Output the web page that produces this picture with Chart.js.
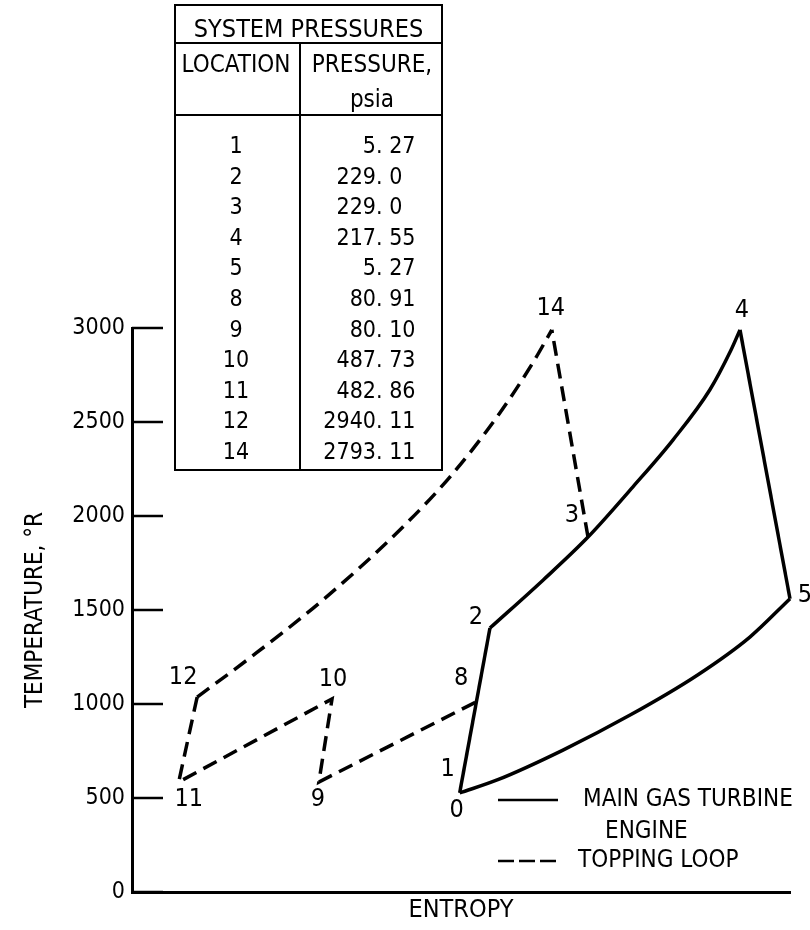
<!DOCTYPE html>
<html>
<head>
<meta charset="utf-8">
<script src="https://cdn.jsdelivr.net/npm/chart.js@4.4.1/dist/chart.umd.min.js"></script>
<style>
  html, body { margin: 0; padding: 0; background: #fff; }
</style>
</head>
<body>
<canvas id="myChart" width="810" height="930"></canvas>
<script>
"use strict";

const FONT = "'Liberation Sans Narrow', 'DejaVu Sans Condensed', 'Arial Narrow', sans-serif";

// temperature axis, deg R
const tempTicks = [0, 500, 1000, 1500, 2000, 2500, 3000];

// main gas turbine engine (entropy in arbitrary units)
// 0 -> 2 compression
const compEntropy = [49.8, 54.4];
const compTemp = [527, 1404];
// 2 -> 3 -> 4 heat addition
const heatEntropy = [54.4, 62.5, 69.3, 76.1, 82.2, 87.8, 91.0, 92.4];
const heatTemp = [1404, 1660, 1888, 2154, 2404, 2670, 2880, 2990];
// 4 -> 5 expansion
const expEntropy = [92.4, 100];
const expTemp = [2990, 1560];
// 0 -> 5 heat rejection isobar
const rejEntropy = [49.8, 55.5, 65.5, 75.7, 85.9, 93.9, 100];
const rejTemp = [527, 596, 755, 941, 1153, 1356, 1560];

// topping loop
// 3 -> 14
const bleedEntropy = [69.3, 63.8];
const bleedTemp = [1888, 2990];
// 12 -> 14 isobar
const coolEntropy = [9.9, 17.9, 29.0, 40.7, 48.3, 55.9, 60.9, 63.8];
const coolTemp = [1037, 1245, 1553, 1926, 2207, 2548, 2814, 2990];
// 12 -> 11 -> 10 -> 9 -> 8
const zigEntropy = [9.9, 7.1, 30.4, 28.4, 52.3];
const zigTemp = [1037, 585, 1027, 585, 1011];

// numbered state points
const stateNames = ["0", "1", "2", "3", "4", "5", "8", "9", "10", "11", "12", "14"];
const stateEntropy = [49.8, 49.8, 54.4, 69.3, 92.4, 100, 52.3, 28.4, 30.4, 7.1, 9.9, 63.8];
const stateTemp = [527, 527, 1404, 1888, 2990, 1560, 1011, 585, 1027, 585, 1037, 2990];

// system pressures table
const tableLocations = ["1", "2", "3", "4", "5", "8", "9", "10", "11", "12", "14"];
const tablePressures = ["5. 27", "229. 0", "229. 0", "217. 55", "5. 27", "80. 91", "80. 10", "487. 73", "482. 86", "2940. 11", "2793. 11"];

// where each number sits relative to its point (px)
const labelOffsets = {
  "0": [-3, 18], "1": [-12, -23], "2": [-14, -11], "3": [-16, -22],
  "4": [2, -19], "5": [15, -3], "8": [-15, -23], "9": [-1, 17],
  "10": [1, -19], "11": [10, 17], "12": [-14, -20], "14": [-1, -21],
};

function toPoints(xs, ys) {
  return xs.map((v, i) => ({ x: v, y: ys[i] }));
}

function path(label, xs, ys, dashed, curved) {
  return {
    label: label,
    data: toPoints(xs, ys),
    showLine: true,
    borderColor: "#000",
    borderWidth: 3.5,
    borderDash: dashed ? [15, 8] : [],
    cubicInterpolationMode: curved ? "monotone" : "default",
    tension: 0,
    pointRadius: 0,
    clip: false,
  };
}

function line(ctx, x1, y1, x2, y2) {
  ctx.beginPath();
  ctx.moveTo(x1, y1);
  ctx.lineTo(x2, y2);
  ctx.stroke();
}

function drawTable(ctx) {
  const L = 175, T = 5, R = 442, B = 470, C = 300;
  ctx.lineWidth = 2;
  ctx.strokeRect(L, T, R - L, B - T);
  line(ctx, L, 43, R, 43);
  line(ctx, L, 115, R, 115);
  line(ctx, C, 43, C, B);

  ctx.textBaseline = "alphabetic";
  ctx.textAlign = "center";
  ctx.font = "25px " + FONT;
  ctx.fillText("SYSTEM PRESSURES", (L + R) / 2, 37);
  ctx.font = "24px " + FONT;
  ctx.fillText("LOCATION", 236, 72);
  ctx.fillText("PRESSURE,", 372, 72);
  ctx.fillText("psia", 372, 107);

  ctx.font = "23px " + FONT;
  tableLocations.forEach((loc, i) => {
    const by = 153 + i * 30.6;
    ctx.textAlign = "center";
    ctx.fillText(loc, 236, by);
    const p = tablePressures[i];
    ctx.textAlign = "left";
    ctx.fillText(p, 376 - ctx.measureText(p.split(".")[0]).width, by);
  });
}

function drawLegend(ctx) {
  ctx.lineWidth = 2.5;
  line(ctx, 498, 800, 558, 800);
  ctx.setLineDash([16, 5]);
  line(ctx, 498, 861, 558, 861);
  ctx.setLineDash([]);
  ctx.font = "24px " + FONT;
  ctx.textAlign = "left";
  ctx.textBaseline = "middle";
  ctx.fillText("MAIN GAS TURBINE", 583, 800);
  ctx.fillText("ENGINE", 605, 832);
  ctx.fillText("TOPPING LOOP", 578, 861);
}

const decorations = {
  id: "decorations",
  afterDraw(chart) {
    const { ctx, chartArea, scales: { x, y } } = chart;
    ctx.save();
    ctx.strokeStyle = "#000";
    ctx.fillStyle = "#000";

    // tick marks point into the plot
    ctx.lineWidth = 2.5;
    tempTicks.forEach((v) => {
      const py = y.getPixelForValue(v);
      line(ctx, chartArea.left, py, chartArea.left + 31, py);
    });

    ctx.font = "25px " + FONT;
    ctx.textAlign = "center";
    ctx.textBaseline = "middle";
    stateNames.forEach((n, i) => {
      const o = labelOffsets[n];
      ctx.fillText(n, x.getPixelForValue(stateEntropy[i]) + o[0], y.getPixelForValue(stateTemp[i]) + o[1]);
    });

    drawTable(ctx);
    drawLegend(ctx);
    ctx.restore();
  },
};

const ctx = document.getElementById("myChart");

new Chart(ctx, {
  type: "scatter",
  data: {
    datasets: [
      path("0-2", compEntropy, compTemp, false, false),
      path("2-3-4", heatEntropy, heatTemp, false, true),
      path("4-5", expEntropy, expTemp, false, false),
      path("0-5", rejEntropy, rejTemp, false, true),
      path("3-14", bleedEntropy, bleedTemp, true, false),
      path("12-14", coolEntropy, coolTemp, true, true),
      path("12-11-10-9-8", zigEntropy, zigTemp, true, false),
    ],
  },
  options: {
    responsive: false,
    animation: false,
    layout: { padding: { top: 328, right: 20, bottom: 0, left: 0 } },
    plugins: { legend: { display: false }, tooltip: { enabled: false } },
    scales: {
      x: {
        type: "linear",
        min: 0,
        max: 100,
        border: { display: true, color: "#000", width: 3 },
        grid: { display: false, drawTicks: false },
        ticks: { display: false },
        title: { display: true, text: "ENTROPY", color: "#000", font: { family: FONT, size: 25 }, padding: { top: 0, bottom: 5 } },
        afterFit(scale) { scale.height = 38; },
      },
      y: {
        type: "linear",
        min: 0,
        max: 3000,
        afterBuildTicks(scale) { scale.ticks = tempTicks.map((v) => ({ value: v })); },
        border: { display: true, color: "#000", width: 3 },
        grid: { display: false, drawTicks: false },
        ticks: { color: "#000", font: { family: FONT, size: 23 }, padding: 7, callback: (v) => String(v) },
        title: { display: true, text: "TEMPERATURE, °R", color: "#000", font: { family: FONT, size: 24 }, padding: { top: 21, bottom: 0 } },
        afterFit(scale) { scale.width = 132; },
      },
    },
  },
  plugins: [decorations],
});
</script>
</body>
</html>
